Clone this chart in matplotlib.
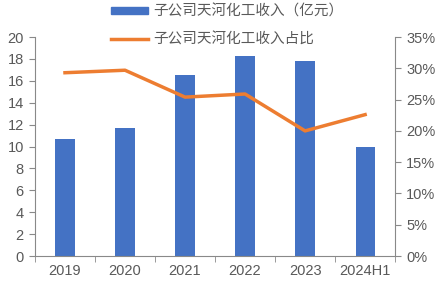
import matplotlib.pyplot as plt
import matplotlib.ticker as mticker
from matplotlib.patches import Patch
from matplotlib.lines import Line2D

plt.rcParams['font.family'] = ['Liberation Sans', 'Noto Sans CJK SC', 'DejaVu Sans']

years = ['2019', '2020', '2021', '2022', '2023', '2024H1']
revenue = [10.7, 11.7, 16.5, 18.3, 17.8, 10.0]          # 亿元
share = [29.3, 29.7, 25.4, 25.9, 20.0, 22.6]            # %

bar_color = '#4472C4'
line_color = '#ED7D31'
grey = '#595959'
spine_grey = '#898989'

fig = plt.figure(figsize=(4.4, 2.83), dpi=100)
ax = fig.add_axes([0.0795, 0.0954, 0.8185, 0.7736])
x = list(range(len(years)))
ax.bar(x, revenue, width=0.32, color=bar_color, zorder=2)
ax.set_xlim(-0.5, 5.5)
ax.set_ylim(0, 20)
ax.set_yticks(range(0, 21, 2))
ax.set_xticks(x)
ax.set_xticklabels(years)
ax.set_xticks([i - 0.5 for i in range(len(years) + 1)], minor=True)
ax.tick_params(axis='x', which='major', length=0, pad=6, labelsize=10.5, colors=grey)
ax.tick_params(axis='x', which='minor', length=4, direction='out', color=spine_grey)
ax.tick_params(axis='y', length=4, labelsize=10.5, colors=grey, color=spine_grey, pad=4)

ax2 = ax.twinx()
ax2.plot(x, share, color=line_color, lw=2.5, zorder=3)
ax2.set_ylim(0, 35)
ax2.set_yticks(range(0, 36, 5))
ax2.yaxis.set_major_formatter(mticker.FuncFormatter(lambda v, p: f'{int(v)}%'))
ax2.tick_params(axis='y', length=4, labelsize=10.5, colors=grey, color=spine_grey, pad=4)

for a in (ax, ax2):
    a.spines['top'].set_visible(False)
    for s in ('left', 'right', 'bottom'):
        a.spines[s].set_color(spine_grey)
ax.spines['right'].set_visible(False)
ax2.spines['left'].set_visible(False)
ax2.spines['bottom'].set_visible(False)

handles = [Patch(color=bar_color), Line2D([], [], color=line_color, lw=2.5)]
labels = ['子公司天河化工收入（亿元）', '子公司天河化工收入占比']
leg = fig.legend(handles, labels, loc='upper left', bbox_to_anchor=(0.222, 1.03),
                 frameon=False, handlelength=2.55, handleheight=0.45,
                 labelspacing=0.95, handletextpad=0.35,
                 prop={'family': 'Noto Sans CJK SC', 'size': 10.5})
for t in leg.get_texts():
    t.set_color(grey)

fig.savefig('out.png', dpi=100)
